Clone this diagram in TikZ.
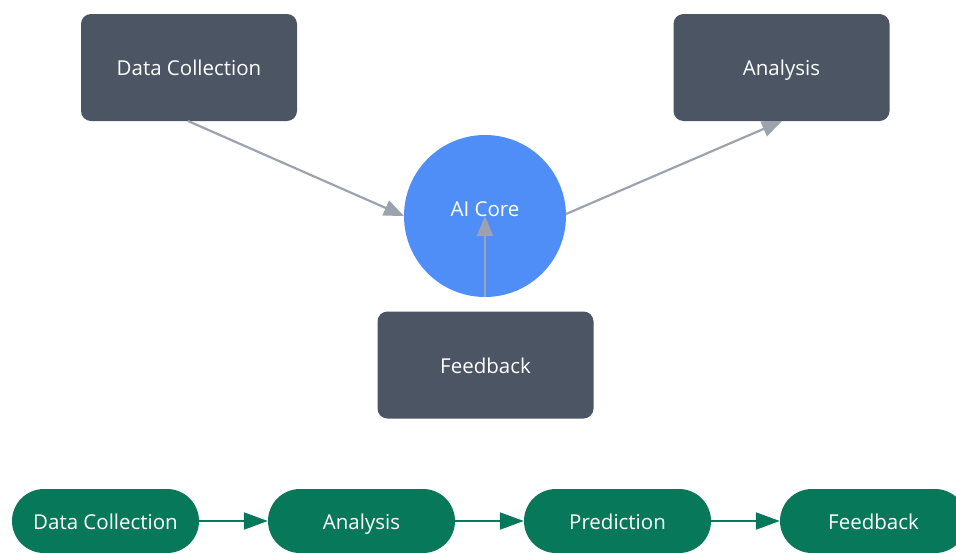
\documentclass[tikz,border=0pt]{standalone}
\usepackage{fontspec}
\setmainfont{Open Sans}
\usetikzlibrary{arrows.meta}
\definecolor{boxgray}{HTML}{4B5563}
\definecolor{coreblue}{HTML}{4F8EF7}
\definecolor{pillgreen}{HTML}{07785A}
\definecolor{arrowgray}{HTML}{9CA3AF}
\tikzset{
  labelfont/.style={text=white, font=\fontsize{20.5}{24}\selectfont, text height=18pt, text depth=2pt},
  topbox/.style={draw=none, fill=boxgray, rounded corners=10pt, minimum width=216pt, minimum height=107pt, inner sep=0pt, labelfont},
  corecircle/.style={circle, fill=coreblue, minimum size=162pt, inner sep=0pt},
  pill/.style={fill=pillgreen, rounded corners=32pt, minimum width=187pt, minimum height=64pt, inner sep=0pt, labelfont},
  grayarrow/.style={draw=arrowgray, line width=2.2pt, -{Triangle[length=20pt, width=16pt]}},
  greenarrow/.style={draw=pillgreen, line width=2.2pt, -{Triangle[length=24pt, width=17pt]}}
}
\begin{document}
\begin{tikzpicture}[x=1pt, y=-1pt]
\useasboundingbox (0,0) rectangle (956,552);
\begin{scope}
\clip (0,0) rectangle (956,552);
\node[topbox] (dc) at (189,67.5) {Data Collection};
\node[topbox] (an) at (781.5,67.5) {Analysis};
\node[topbox] (fb) at (485.5,365) {Feedback};
\node[corecircle] (ai) at (485,216) {};
\node[labelfont] (ailabel) at (485,208) {AI Core};
\coordinate (dcout) at (188,121);
\coordinate (anin) at (782,121);
\coordinate (aiL) at (404,216);
\coordinate (aiR) at (566,214);
\draw[grayarrow] (dcout) -- (aiL);
\draw[grayarrow] (aiR) -- (anin);
\draw[grayarrow] (ai.south) -- (ai.center);

\node[pill] (p1) at (105.5,521) {Data Collection};
\node[pill] (p2) at (361.5,521) {Analysis};
\node[pill] (p3) at (617.5,521) {Prediction};
\node[pill] (p4) at (873.5,521) {Feedback};
\draw[greenarrow] (p1.east) -- (p2.west);
\draw[greenarrow] (p2.east) -- (p3.west);
\draw[greenarrow] (p3.east) -- (p4.west);
\end{scope}
\end{tikzpicture}
\end{document}
